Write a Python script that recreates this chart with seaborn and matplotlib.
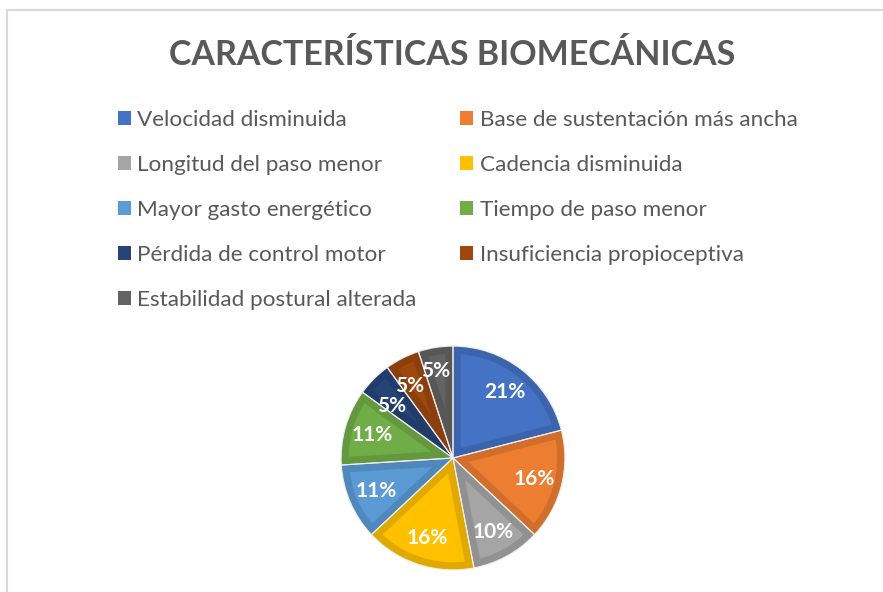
import matplotlib
matplotlib.use("Agg")
import numpy as np
import matplotlib.pyplot as plt
import matplotlib.patches as mpatches
import matplotlib.colors as mcolors
import seaborn as sns

# data
labels = ["Velocidad disminuida", "Base de sustentación más ancha",
          "Longitud del paso menor", "Cadencia disminuida",
          "Mayor gasto energético", "Tiempo de paso menor",
          "Pérdida de control motor", "Insuficiencia propioceptiva",
          "Estabilidad postural alterada"]
percent = [21, 16, 10, 16, 11, 11, 5, 5, 5]
colors = ["#4472C4", "#ED7D31", "#A5A5A5", "#FFC000", "#5B9BD5",
          "#70AD47", "#264478", "#9E480E", "#636363"]

sns.set_theme(style="white")
plt.rcParams['font.family'] = ['Lato', 'DejaVu Sans']
palette = sns.color_palette(colors)
text_gray = "#595959"

W, H = 883, 592
fig = plt.figure(figsize=(W / 100, H / 100), dpi=100)
fig.patch.set_facecolor("white")

# chart area frame (only top and left edge visible)
fig.add_artist(mpatches.Rectangle((6.5 / W, -0.1), 1.2, 1 - 9.5 / H + 0.1,
                                  transform=fig.transFigure, fill=False,
                                  edgecolor="#d9d9d9", linewidth=1.5))

fig.text(452 / W, 1 - 55 / H, "CARACTERÍSTICAS BIOMECÁNICAS",
         ha="center", va="center", fontsize=24.5, fontweight="bold",
         color=text_gray)

# pie
cx, cy, r = 453, 458, 113
ax = fig.add_axes([(cx - r) / W, 1 - (cy + r) / H, 2 * r / W, 2 * r / H])
wedges, texts, autotexts = ax.pie(
    percent, colors=palette, startangle=90, counterclock=False,
    autopct=lambda p: f"{p:.0f}%", pctdistance=0.75, radius=1,
    textprops=dict(color="white", fontsize=15, fontweight="bold"))
# darker inner band along each slice border (clip the thick edge to the slice)
for w, c in zip(wedges, palette):
    dark = [v * 0.88 for v in mcolors.to_rgb(c)]
    w.set_edgecolor(dark)
    w.set_linewidth(11)
    w.set_clip_path(w)
    w.set_clip_on(True)

# small top slices: nudge labels apart a little, like Excel does
nudge = {6: (5, 0.72), 7: (4, 0.75), 8: (2, 0.79)}
for i, (dang, dist) in nudge.items():
    w = wedges[i]
    ang = np.deg2rad((w.theta1 + w.theta2) / 2 + dang)
    autotexts[i].set_position((dist * np.cos(ang), dist * np.sin(ang)))

# thin light separators
ax.pie(percent, colors=["none"] * len(percent), startangle=90,
       counterclock=False, radius=1,
       wedgeprops=dict(edgecolor="#eeeeee", linewidth=0.8))
ax.set_xlim(-1.01, 1.01)
ax.set_ylim(-1.01, 1.01)
ax.set_aspect("equal")
ax.axis("off")

# legend, filled row by row (matplotlib fills columns, so reorder)
handles = [mpatches.Patch(facecolor=c, edgecolor="none") for c in palette]
order = [0, 2, 4, 6, 8, 1, 3, 5, 7]
leg = fig.legend([handles[i] for i in order], [labels[i] for i in order],
                 ncol=2, loc="upper left",
                 bbox_to_anchor=(118 / W, 1 - 109.5 / H),
                 frameon=False, fontsize=16.2, borderpad=0, borderaxespad=0,
                 handlelength=0.58, handleheight=0.58, handletextpad=0.27,
                 labelspacing=1.12, columnspacing=1.95)
for t in leg.get_texts():
    t.set_color(text_gray)

fig.savefig("out.png", dpi=100)
